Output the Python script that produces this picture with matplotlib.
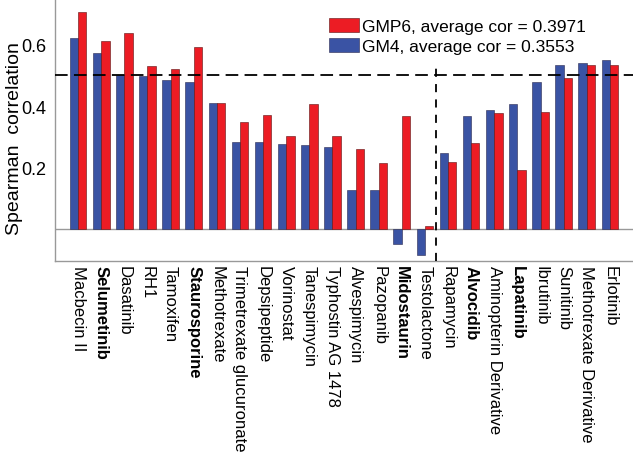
import numpy as np
import matplotlib
matplotlib.use("Agg")
import matplotlib.pyplot as plt

plt.rcParams['font.family'] = ['Liberation Sans', 'DejaVu Sans']

# drugs, in plotted order
drugs = ['Macbecin II', 'Selumetinib', 'Dasatinib', 'RH1', 'Tamoxifen',
         'Staurosporine', 'Methotrexate', 'Trimetrexate glucuronate',
         'Depsipeptide', 'Vorinostat', 'Tanespimycin', 'Typhostin AG 1478',
         'Alvespimycin', 'Pazopanib', 'Midostaurin', 'Testolactone',
         'Rapamycin', 'Alvocidib', 'Aminopterin Derivative', 'Lapatinib',
         'Ibrutinib', 'Sunitinib', 'Methotrexate Derivative', 'Erlotinib']
bold_drugs = ['Selumetinib', 'Staurosporine', 'Midostaurin', 'Alvocidib', 'Lapatinib']

gm4 = [0.620, 0.571, 0.501, 0.499, 0.486, 0.479, 0.409, 0.282, 0.282, 0.278,
       0.273, 0.267, 0.128, 0.128, -0.049, -0.085, 0.247, 0.369, 0.387, 0.405,
       0.477, 0.533, 0.540, 0.551]
gmp6 = [0.707, 0.613, 0.636, 0.529, 0.520, 0.591, 0.409, 0.349, 0.370, 0.302,
        0.405, 0.302, 0.259, 0.214, 0.366, 0.011, 0.219, 0.280, 0.376, 0.191,
        0.382, 0.490, 0.533, 0.533]

red = '#EC1C24'
blue = '#3A53A4'

fig = plt.figure(figsize=(6.33, 4.64), dpi=100)
ax = fig.add_axes([55 / 633, 1 - 262 / 464, 578 / 633, 262 / 464])

x = np.arange(len(drugs))
w = 0.36
ax.bar(x - w / 2, gm4, w, color=blue, edgecolor='#2a2a50', linewidth=0.4,
       label='GM4, average cor = 0.3553', zorder=3)
ax.bar(x + w / 2, gmp6, w, color=red, edgecolor='#5a1010', linewidth=0.4,
       label='GMP6, average cor = 0.3971', zorder=3)

ax.set_xlim(-1.0, 24.0)
ax.set_ylim(-0.104, 0.748)

# reference lines
ax.axhline(0, color='#999999', lw=1.0, zorder=2)
ax.axhline(0.5, color='black', lw=1.3, linestyle=(0, (7, 3.5)), zorder=4)
ax.vlines(15.5, -0.104, 0.53, color='black', lw=1.3, linestyle=(0, (4.5, 4)), zorder=4)

for s in ['top', 'right']:
    ax.spines[s].set_visible(False)
for s in ['left', 'bottom']:
    ax.spines[s].set_color('#999999')
    ax.spines[s].set_linewidth(1.0)

ax.set_yticks([0.2, 0.4, 0.6])
ax.set_yticklabels(['0.2', '0.4', '0.6'])
ax.tick_params(axis='y', length=0, pad=6, labelsize=13)
ax.set_xticks(x)
ax.set_xticklabels(drugs, rotation=270, fontsize=12)
ax.tick_params(axis='x', length=0, pad=3)
for lab in ax.get_xticklabels():
    if lab.get_text() in bold_drugs:
        lab.set_fontweight('bold')

ax.set_ylabel('Spearman  correlation', fontsize=14)
ax.yaxis.set_label_coords(-0.056, 0.47)

h, l = ax.get_legend_handles_labels()
ax.legend(h[::-1], l[::-1], loc='upper left', bbox_to_anchor=(326 / 633, 1 - 16 / 464),
          bbox_transform=fig.transFigure, frameon=False, fontsize=12.5,
          handlelength=1.7, handleheight=0.85, handletextpad=0.15,
          labelspacing=0.2, borderpad=0.2, borderaxespad=0)

fig.savefig('out.png', dpi=100)
